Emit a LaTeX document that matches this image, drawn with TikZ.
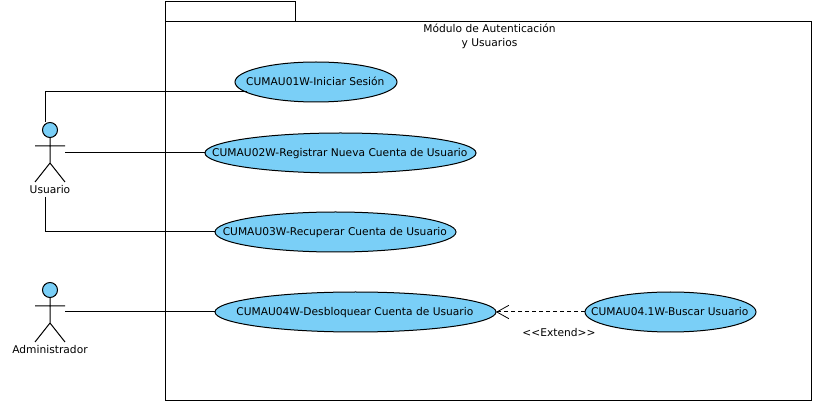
\documentclass[tikz,border=0pt]{standalone}
\usepackage{fontspec}
\setmainfont{DejaVu Sans}
\usetikzlibrary{arrows.meta,shapes.geometric}
\definecolor{ucblue}{HTML}{7ACFF7}
\newcommand{\uctext}[1]{\hspace*{-1pt}\raisebox{-0.36em}[0pt][0pt]{\makebox[0pt]{#1}}}
\tikzset{
  px/.style={x=0.75pt,y=-0.75pt},
  line/.style={draw=black,line width=0.75pt},
  pkgbox/.style={line},
  usecase/.style={ellipse,draw=black,line width=0.75pt,fill=ucblue,inner sep=0pt,outer sep=0pt,minimum height=30pt,font=\fontsize{8}{9.5}\selectfont},
  actorlabel/.style={inner sep=0pt,font=\fontsize{8}{9.5}\selectfont},
  actorhead/.style={circle,draw=black,line width=0.75pt,fill=ucblue,minimum size=11.25pt,inner sep=0pt,outer sep=0pt},
  txt/.style={inner sep=0pt,align=center,font=\fontsize{8}{10.5}\selectfont},
  assoc/.style={line},
  ext/.style={line,dash pattern=on 3pt off 2.25pt,-{Straight Barb[length=9pt,width=10pt,line width=0.6pt]}}
}
\begin{document}
\begin{tikzpicture}[px]
\useasboundingbox (0,0) rectangle (819,406);
% package
\draw[pkgbox] (165,22) rectangle (811,401);
\draw[pkgbox] (165,22) rectangle (295,2);
\node[txt] (pkgname) at (489.5,36.5) {Módulo de Autenticación\\y Usuarios};
% use cases
\node[usecase,minimum width=121.5pt] (uc1) at (316,82) {\uctext{CUMAU01W-Iniciar Sesión}};
\node[usecase,minimum width=203.25pt] (uc2) at (340.5,153) {\uctext{CUMAU02W-Registrar Nueva Cuenta de Usuario}};
\node[usecase,minimum width=180.75pt] (uc3) at (335.5,232) {\uctext{CUMAU03W-Recuperar Cuenta de Usuario}};
\node[usecase,minimum width=210.75pt] (uc4) at (355.5,312) {\uctext{CUMAU04W-Desbloquear Cuenta de Usuario}};
\node[usecase,minimum width=128.25pt] (uc5) at (670.5,312) {\uctext{CUMAU04.1W-Buscar Usuario}};
% actors
\node[actorhead] (uhead) at (50,130) {};
\node[actorhead] (ahead) at (50,290) {};
\coordinate (uneck) at (50,163);
\coordinate (aneck) at (50,323);
\draw[line] (uhead.south) -- (uneck) (35,146) -- (65,146) (35,182) -- (uneck) -- (65,182);
\draw[line] (ahead.south) -- (aneck) (35,306) -- (65,306) (35,342) -- (aneck) -- (65,342);
\node[actorlabel] (ulabel) at (50,189.5) {Usuario};
\node[actorlabel] (alabel) at (50,349.5) {Administrador};
% connector ends
\coordinate (utop) at (45.5,122);
\coordinate (ubot) at (45.5,197);
\coordinate (uright) at (65,153);
\coordinate (aright) at (65,312);
\coordinate (uc1end) at (247,92);
% connectors
\draw[assoc] (utop) |- (uc1end);
\draw[assoc] (uright) -- (uc2.west);
\draw[assoc] (ubot) |- (uc3.west);
\draw[assoc] (aright) -- (uc4.west);
\draw[ext] (uc5.west) -- (uc4.east);
\node[actorlabel] (extlabel) at (559,332.5) {{<}{<}Extend{>}{>}};
\end{tikzpicture}
\end{document}
